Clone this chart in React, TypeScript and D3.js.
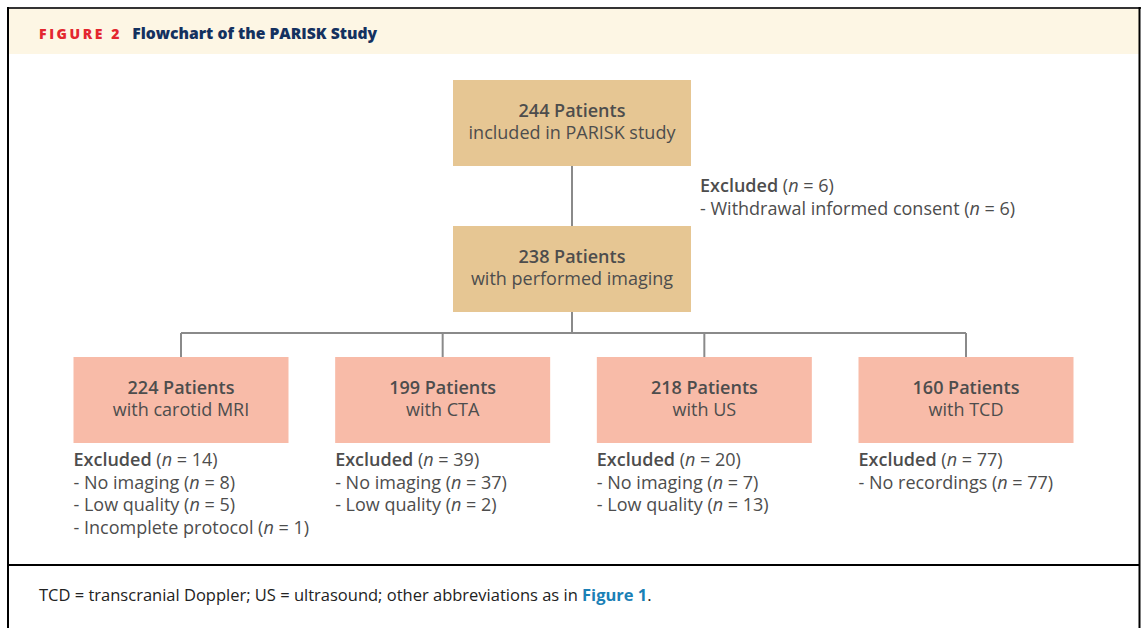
import * as d3 from "d3";
import { useEffect, useRef } from "react";

const topLines = [
  { count: 244, label: "included in PARISK study" },
  { count: 238, label: "with performed imaging" },
];
const topExcluded = { total: 6, reasons: [{ reason: "Withdrawal informed consent", n: 6 }] };

const modalities = ["with carotid MRI", "with CTA", "with US", "with TCD"];
const modalityCounts = [224, 199, 218, 160];
const excludedTotals = [14, 39, 20, 77];
const excludedReasons = [
  [
    { reason: "No imaging", n: 8 },
    { reason: "Low quality", n: 5 },
    { reason: "Incomplete protocol", n: 1 },
  ],
  [
    { reason: "No imaging", n: 37 },
    { reason: "Low quality", n: 2 },
  ],
  [
    { reason: "No imaging", n: 7 },
    { reason: "Low quality", n: 13 },
  ],
  [{ reason: "No recordings", n: 77 }],
];

const FONT = "'Open Sans', 'Noto Sans', sans-serif";
const TEXT = "#4d4d4d";

const App = () => {
  const svgRef = useRef<SVGSVGElement>(null);
  useEffect(() => {
    if (!svgRef.current) return;
    const svg = d3.select(svgRef.current);
    svg.selectAll("*").remove();
    const width = 1142;
    const height = 628;

    // frame + header
    svg.append("rect").attr("x", 8).attr("y", 9).attr("width", 1131).attr("height", 45).attr("fill", "#fdf6e4");
    svg.append("line").attr("x1", 7).attr("x2", 1141).attr("y1", 8).attr("y2", 8).attr("stroke", "#333").attr("stroke-width", 2);
    svg.append("line").attr("x1", 8).attr("x2", 8).attr("y1", 7).attr("y2", height).attr("stroke", "#000").attr("stroke-width", 2);
    svg.append("line").attr("x1", 1139.5).attr("x2", 1139.5).attr("y1", 7).attr("y2", height).attr("stroke", "#000").attr("stroke-width", 2);
    svg.append("line").attr("x1", 8).attr("x2", 1140).attr("y1", 565).attr("y2", 565).attr("stroke", "#000").attr("stroke-width", 2);

    const title = svg.append("text").attr("x", 39).attr("y", 39).attr("font-family", "'Open Sans', sans-serif").attr("font-weight", 800);
    title.append("tspan").attr("fill", "#e3262f").attr("font-size", 14).attr("letter-spacing", 2.6).text("FIGURE 2");
    title.append("tspan").attr("dx", 10).attr("fill", "#14315f").attr("font-size", 15.7).text("Flowchart of the PARISK Study");

    // scales for layout
    const cx = 572;
    const y = d3.scaleBand<number>().domain([0, 1]).range([80, 312]).paddingInner(60 / 146);
    const x = d3.scalePoint<string>().domain(modalities).range([181, 966]);
    const boxH = 86;
    const topW = 238;
    const botW = 215;
    const botY = 357;
    const busY = 333;

    // connectors
    const g = svg.append("g").attr("stroke", "#8a8a8a").attr("stroke-width", 2).attr("fill", "none");
    g.append("line").attr("x1", cx).attr("x2", cx).attr("y1", y(0)! + boxH).attr("y2", y(1)!);
    g.append("line").attr("x1", cx).attr("x2", cx).attr("y1", y(1)! + boxH).attr("y2", busY);
    g.append("line").attr("x1", x(modalities[0])!).attr("x2", x(modalities[3])!).attr("y1", busY).attr("y2", busY);
    modalities.forEach((m) => {
      g.append("line").attr("x1", x(m)!).attr("x2", x(m)!).attr("y1", busY).attr("y2", botY);
    });

    const addBox = (
      px: number,
      py: number,
      w: number,
      fill: string,
      count: number,
      label: string
    ) => {
      svg.append("rect").attr("x", px - w / 2).attr("y", py).attr("width", w).attr("height", boxH).attr("fill", fill);
      svg.append("text").attr("x", px).attr("y", py + 37).attr("text-anchor", "middle").attr("font-family", FONT)
        .attr("font-size", 18).attr("font-weight", 600).attr("fill", TEXT).text(`${count} Patients`);
      svg.append("text").attr("x", px).attr("y", py + 59).attr("text-anchor", "middle").attr("font-family", FONT)
        .attr("font-size", 18).attr("fill", TEXT).text(label);
    };

    topLines.forEach((d, i) => addBox(cx, y(i)!, topW, "#e6c693", d.count, d.label));
    modalities.forEach((m, i) => addBox(x(m)!, botY, botW, "#f8bba8", modalityCounts[i], m));

    const addExcluded = (px: number, py: number, total: number, reasons: { reason: string; n: number }[]) => {
      const t = svg.append("g").attr("font-family", FONT).attr("font-size", 18).attr("fill", TEXT);
      const head = t.append("text").attr("x", px).attr("y", py);
      head.append("tspan").attr("font-weight", 600).text("Excluded");
      head.append("tspan").text(" (");
      head.append("tspan").attr("font-style", "italic").text("n");
      head.append("tspan").text(` = ${total})`);
      reasons.forEach((r, i) => {
        const line = t.append("text").attr("x", px).attr("y", py + 22.5 * (i + 1));
        line.append("tspan").text(`- ${r.reason} (`);
        line.append("tspan").attr("font-style", "italic").text("n");
        line.append("tspan").text(` = ${r.n})`);
      });
    };

    addExcluded(700, 192, topExcluded.total, topExcluded.reasons);
    modalities.forEach((m, i) => addExcluded(x(m)! - botW / 2, 466, excludedTotals[i], excludedReasons[i]));

    // footnote
    const foot = svg.append("text").attr("x", 39).attr("y", 601).attr("font-family", FONT).attr("font-size", 16.5).attr("fill", "#222");
    foot.append("tspan").text("TCD = transcranial Doppler; US = ultrasound; other abbreviations as in ");
    foot.append("tspan").attr("fill", "#1a80b6").attr("font-weight", 700).text("Figure 1");
    foot.append("tspan").text(".");

    svg.attr("width", width).attr("height", height).attr("viewBox", [0, 0, width, height]);
  }, []);
  return (
    <svg
      ref={svgRef}
      style={{ position: "absolute", left: 0, top: 0, background: "#fff" }}
    ></svg>
  );
};

export default App;
